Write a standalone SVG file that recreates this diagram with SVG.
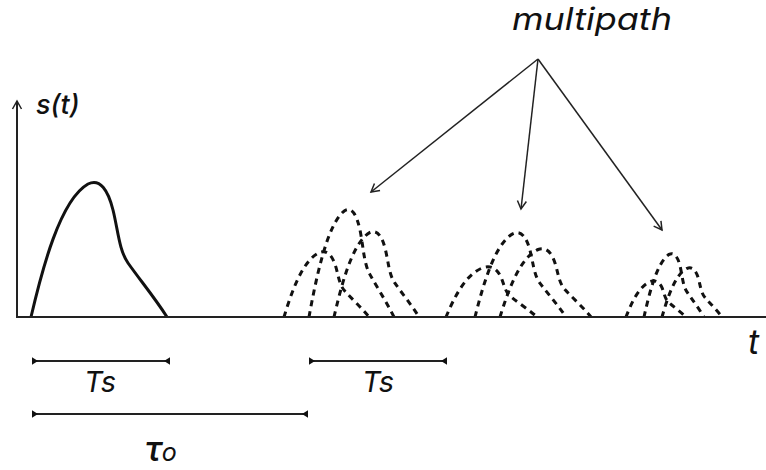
<svg xmlns="http://www.w3.org/2000/svg" width="766" height="470" viewBox="0 0 766 470">
<style>
.txt{font-family:Inter,"Liberation Sans",sans-serif;font-style:italic;fill:#111}
.dash{fill:none;stroke:#111;stroke-width:3;stroke-dasharray:6 5}
.solid{fill:none;stroke:#111;stroke-width:3;stroke-linejoin:round}
.axis{fill:none;stroke:#222;stroke-width:2}
.arr{fill:none;stroke:#222;stroke-width:1.5}
.dim{fill:none;stroke:#222;stroke-width:2}
</style>
<defs>
<marker id="open" viewBox="-10 -6 12 12" refX="0" refY="0" markerWidth="12" markerHeight="12" markerUnits="userSpaceOnUse" orient="auto">
<path d="M-8,-4.5 L0,0 L-8,4.5" fill="none" stroke="#222" stroke-width="1.5"/>
</marker>
<marker id="tri" viewBox="-8 -5 10 10" refX="0" refY="0" markerWidth="10" markerHeight="10" markerUnits="userSpaceOnUse" orient="auto-start-reverse">
<path d="M0,-3.8 L0,3.8 L-6,0 z" fill="#111"/>
</marker>
</defs>
<rect width="766" height="470" fill="#fff"/>
<g id="pulse-solid">
<path class="solid" d="M31,317 C42,270 60,200 88,184 C100,178 108,190 113,210 C118,230 119,250 128,263 C140,280 155,298 167,317"/>
</g>
<g id="echo-group-1">
<path class="dash" d="M284,317 C290.9,294.2 302.1,260.3 319.6,252.5 C327.1,249.6 332.1,255.4 335.3,265.1 C338.4,274.8 339,284.5 344.6,290.8 C352.1,299.1 361.5,307.8 369,317"/>
<path class="dash" d="M309,317 C315.9,279.4 327.1,223.6 344.6,210.7 C352.1,206 357.1,215.6 360.3,231.5 C363.4,247.6 364,263.5 369.6,273.9 C377.1,287.5 386.5,301.8 394,317"/>
<path class="dash" d="M334,317 C340.9,287.2 352.1,242.8 369.6,232.6 C377.1,228.9 382.1,236.4 385.3,249.1 C388.4,261.8 389,274.5 394.6,282.7 C402.1,293.5 411.5,304.9 419,317"/>
</g>
<g id="echo-group-2">
<path class="dash" d="M446,317 C453.4,299.4 465.4,273.3 484.1,267.3 C492.1,265.1 497.5,269.6 500.9,277 C504.2,284.5 504.9,292 510.9,296.8 C518.9,303.2 529,309.9 537,317"/>
<path class="dash" d="M475,317 C482.4,287.5 494.4,243.7 513.1,233.6 C521.1,229.9 526.5,237.4 529.9,249.9 C533.2,262.5 533.9,275 539.9,283.1 C547.9,293.8 558,305.1 566,317"/>
<path class="dash" d="M500,317 C507.4,293.1 519.4,257.6 538.1,249.5 C546.1,246.5 551.5,252.5 554.9,262.7 C558.2,272.9 558.9,283 564.9,289.6 C572.9,298.2 583,307.3 591,317"/>
</g>
<g id="echo-group-3">
<path class="dash" d="M626,317 C630.9,304.4 638.8,285.6 651.1,281.3 C656.4,279.7 660,282.9 662.2,288.2 C664.4,293.6 664.8,299 668.8,302.5 C674.1,307.1 680.7,311.9 686,317"/>
<path class="dash" d="M644,317 C648.9,294.9 656.8,262 669.1,254.4 C674.4,251.7 678,257.3 680.2,266.7 C682.4,276.1 682.8,285.5 686.8,291.6 C692.1,299.6 698.7,308.1 704,317"/>
<path class="dash" d="M662,317 C666.9,299.8 674.8,274.2 687.1,268.3 C692.4,266.2 696,270.5 698.2,277.8 C700.4,285.2 700.8,292.5 704.8,297.3 C710.1,303.5 716.7,310 722,317"/>
</g>
<g id="axes">
<line class="axis" x1="17" y1="317" x2="17" y2="101" marker-end="url(#open)"/>
<line class="axis" x1="16" y1="317" x2="766" y2="317"/>
<text class="txt" x="36" y="114" font-size="27" font-weight="500">s(t)</text>
<text class="txt" x="748" y="354" font-size="34">t</text>
</g>
<g id="multipath">
<text class="txt" x="512" y="30" font-size="31" textLength="160" lengthAdjust="spacingAndGlyphs">multipath</text>
</g>
<g id="connectors">
<line class="arr" x1="538" y1="59" x2="371" y2="192" marker-end="url(#open)"/>
<line class="arr" x1="538" y1="59" x2="521" y2="209" marker-end="url(#open)"/>
<line class="arr" x1="538" y1="59" x2="662" y2="230" marker-end="url(#open)"/>
</g>
<g id="dim-ts1">
<line class="dim" x1="32" y1="361" x2="170" y2="361" marker-start="url(#tri)" marker-end="url(#tri)"/>
<text class="txt" x="100" y="392" font-size="29" text-anchor="middle">Ts</text>
</g>
<g id="dim-ts2">
<line class="dim" x1="309" y1="361" x2="447" y2="361" marker-start="url(#tri)" marker-end="url(#tri)"/>
<text class="txt" x="378" y="392" font-size="29" text-anchor="middle">Ts</text>
</g>
<g id="dim-tau">
<line class="dim" x1="32" y1="414" x2="308" y2="414" marker-start="url(#tri)" marker-end="url(#tri)"/>
<text class="txt" x="145" y="461" font-size="35" font-weight="500">τ<tspan font-size="25" font-weight="400">o</tspan></text>
</g>
</svg>
